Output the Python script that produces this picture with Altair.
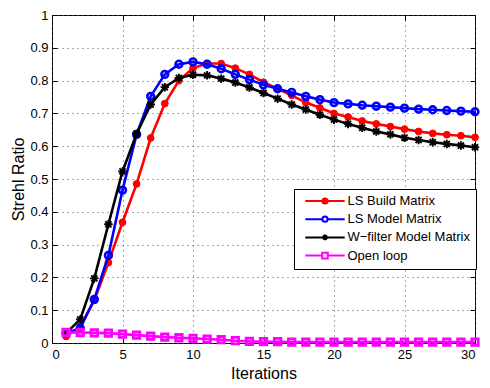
import altair as alt
import pandas as pd

iterations = list(range(1, 31))
series_names = ["LS Build Matrix", "LS Model Matrix", "W\u2212filter Model Matrix", "Open loop"]

ls_build = [0.020, 0.050, 0.130, 0.245, 0.368, 0.485, 0.625, 0.730, 0.800, 0.838,
            0.852, 0.852, 0.838, 0.819, 0.795, 0.775, 0.755, 0.733, 0.717, 0.700,
            0.689, 0.677, 0.668, 0.660, 0.652, 0.645, 0.639, 0.635, 0.632, 0.627]
ls_model = [0.030, 0.045, 0.133, 0.267, 0.466, 0.636, 0.752, 0.819, 0.850, 0.857,
            0.850, 0.836, 0.819, 0.803, 0.787, 0.775, 0.764, 0.752, 0.742, 0.733,
            0.729, 0.725, 0.722, 0.719, 0.716, 0.713, 0.711, 0.709, 0.707, 0.705]
w_filter = [0.030, 0.072, 0.197, 0.362, 0.523, 0.638, 0.727, 0.780, 0.808, 0.818,
            0.816, 0.806, 0.794, 0.779, 0.762, 0.745, 0.727, 0.712, 0.696, 0.681,
            0.668, 0.656, 0.645, 0.636, 0.626, 0.619, 0.612, 0.607, 0.602, 0.597]
open_loop = [0.032, 0.032, 0.031, 0.030, 0.027, 0.024, 0.021, 0.018, 0.016, 0.014,
             0.012, 0.010, 0.007, 0.005, 0.004, 0.004, 0.003, 0.003, 0.003, 0.003,
             0.003, 0.003, 0.003, 0.003, 0.003, 0.003, 0.003, 0.003, 0.003, 0.003]

x_ticks = [0, 5, 10, 15, 20, 25, 30]
y_ticks = [0, 0.1, 0.2, 0.3, 0.4, 0.5, 0.6, 0.7, 0.8, 0.9, 1]

colors = ["#ff0000", "#0000ff", "#000000", "#ff00ff"]

rows = []
for name, vals in zip(series_names, [ls_build, ls_model, w_filter, open_loop]):
    for it, v in zip(iterations, vals):
        rows.append({"iter": it, "value": v, "series": name})
df = pd.DataFrame(rows)

FONT = "Liberation Sans"
xs = alt.Scale(domain=[0, 30], nice=False, zero=False)
ys = alt.Scale(domain=[0, 1], nice=False, zero=False)

main_x = alt.Axis(values=x_ticks, title="Iterations", grid=True, ticks=False, tickSize=0,
                  domain=False, labelPadding=5, titlePadding=4, format="~g", orient="bottom")
main_y = alt.Axis(values=y_ticks, title="Strehl Ratio", grid=True, ticks=False, tickSize=0,
                  domain=False, labelPadding=4, titlePadding=3, format="~g", orient="left")


def tick_axis(orient, vals):
    return alt.Axis(values=vals, orient=orient, offset=-5, tickSize=5, ticks=True,
                    labels=False, domain=False, grid=False, title=None)


axis_sets = [
    (main_x, main_y),
    (tick_axis("bottom", x_ticks), tick_axis("left", y_ticks)),
    (tick_axis("top", x_ticks), tick_axis("right", y_ticks)),
]

asterisk = "M-1,0H1M0,-1V1M-0.72,-0.72L0.72,0.72M-0.72,0.72L0.72,-0.72"
marker_specs = [
    dict(shape="circle", filled=True, size=46, strokeWidth=1),
    dict(shape="circle", filled=False, size=46, strokeWidth=2.6),
    dict(shape=asterisk, filled=False, size=72, strokeWidth=1.9),
    dict(shape="square", filled=False, size=42, strokeWidth=2.8),
]

layers = []
ax_i = 0
for name, col, ms in zip(series_names, colors, marker_specs):
    sub = df[df["series"] == name]
    for kind in ("line", "point"):
        if ax_i < len(axis_sets):
            xa, ya = axis_sets[ax_i]
        else:
            xa, ya = None, None
        ax_i += 1
        enc = dict(
            x=alt.X("iter:Q", scale=xs, axis=xa),
            y=alt.Y("value:Q", scale=ys, axis=ya),
        )
        if kind == "line":
            m = alt.Chart(sub).mark_line(color=col, strokeWidth=2.6)
        else:
            if ms["filled"]:
                m = alt.Chart(sub).mark_point(shape=ms["shape"], filled=True, fill=col, stroke=col,
                                              size=ms["size"], strokeWidth=ms["strokeWidth"], opacity=1)
            else:
                m = alt.Chart(sub).mark_point(shape=ms["shape"], filled=False, stroke=col,
                                              size=ms["size"], strokeWidth=ms["strokeWidth"], opacity=1)
        layers.append(m.encode(**enc))

# legend-only layer
L = 9.85
r = 1.3
legend_paths = [
    f"M-{L},0H{L}M{r},0A{r},{r},0,1,1,-{r},0A{r},{r},0,1,1,{r},0Z",
    f"M-{L},0H-{r}M{r},0H{L}M{r},0A{r},{r},0,1,1,-{r},0A{r},{r},0,1,1,{r},0Z",
    f"M-{L},0H{L}M-1.4,0H1.4M0,-1.4V1.4M-1,-1L1,1M-1,1L1,-1",
    f"M-{L},0H-1.4M1.4,0H{L}M-1.4,-1.4H1.4V1.4H-1.4Z",
]
legend_fills = ["#ff0000", "#ffffff", "#000000", "#ffffff"]

leg = alt.Legend(orient="none", legendX=242, legendY=174, title=None,
                 labelFont=FONT, labelFontSize=13, labelColor="black", labelLimit=300,
                 symbolSize=16, symbolOffset=19, labelOffset=16, symbolStrokeWidth=2,
                 rowPadding=3.2, padding=5.5, strokeColor="black", fillColor="white",
                 symbolOpacity=1)

legend_layer = alt.Chart(df).transform_filter("datum.iter < 0").mark_point(opacity=1).encode(
    shape=alt.Shape("series:N", scale=alt.Scale(domain=series_names, range=legend_paths), legend=leg),
    fill=alt.Fill("series:N", scale=alt.Scale(domain=series_names, range=legend_fills), legend=leg),
    stroke=alt.Stroke("series:N", scale=alt.Scale(domain=series_names, range=colors), legend=leg),
)
layers.append(legend_layer)

chart = alt.layer(*layers).resolve_axis(x="independent", y="independent").properties(
    width=423, height=328,
    padding={"left": 44, "top": 7, "right": 7, "bottom": 37},
    autosize=alt.AutoSizeParams(type="none"),
).configure_view(
    stroke="black", strokeWidth=1
).configure_axis(
    labelFont=FONT, labelFontSize=13, labelColor="black",
    titleFont=FONT, titleFontSize=16, titleFontWeight="normal", titleColor="black",
    gridColor="#555555", gridDash=[1, 4], gridWidth=1, gridOpacity=1,
    tickColor="black", tickWidth=1,
)

chart.save("out.html", embed_options={"renderer": "svg", "actions": False})
